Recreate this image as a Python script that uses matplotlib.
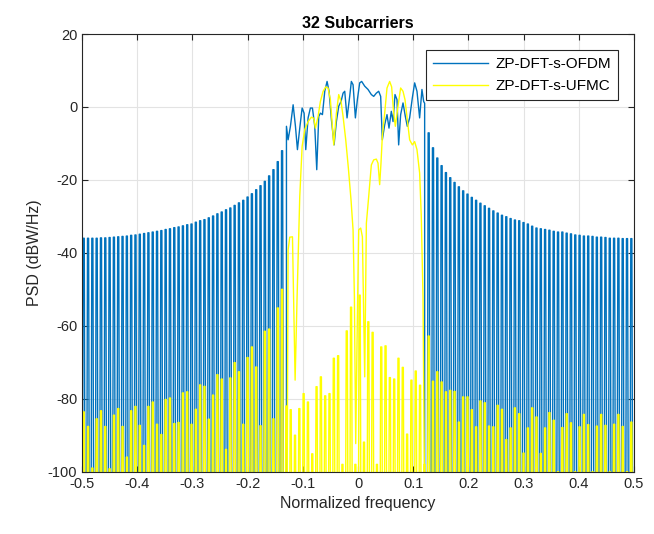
import numpy as np
import matplotlib
matplotlib.use("Agg")
import matplotlib.pyplot as plt

plt.rcParams['font.family'] = ['Liberation Sans', 'DejaVu Sans']
plt.rcParams['axes.unicode_minus'] = False

# sidelobe spikes sit on a 1/128 grid (128 spikes across the band)
bin_freq = -0.497 + np.arange(128) / 128.0

# ZP-DFT-s-OFDM: spike peaks left of the band (bins 0..46), right of it (bins 80..127)
ofdm_left = [-36.0, -36.0, -36.0, -36.0, -35.9, -35.9, -35.8, -35.7, -35.6, -35.5,
             -35.4, -35.2, -35.1, -34.9, -34.7, -34.5, -34.3, -34.1, -33.9, -33.6,
             -33.4, -33.1, -32.9, -32.6, -32.3, -32.1, -31.6, -31.2, -30.9, -30.4,
             -29.9, -29.3, -28.8, -28.2, -27.7, -27.0, -26.3, -25.6, -24.7, -23.8,
             -22.7, -21.6, -20.4, -18.9, -17.2, -15.0, -12.0]
ofdm_right = [-7.1, -11.2, -14.0, -16.1, -18.0, -19.4, -20.7, -21.9, -23.0, -23.9,
              -24.8, -25.6, -26.4, -27.1, -27.8, -28.5, -29.1, -29.7, -30.1, -30.6,
              -31.0, -31.2, -31.7, -32.1, -32.7, -33.2, -33.4, -33.6, -33.8, -34.1,
              -34.3, -34.3, -34.6, -34.8, -35.1, -35.2, -35.4, -35.4, -35.5, -35.7,
              -35.7, -35.8, -36.0, -36.0, -36.0, -36.1, -36.1, -36.1]

# ZP-DFT-s-OFDM in-band curve
ofdm_band_f = [-0.1297, -0.1267, -0.1225, -0.1176, -0.1134, -0.1098, -0.1056, -0.1013,
               -0.0977, -0.0947, -0.0905, -0.0863, -0.0826, -0.0784, -0.0748, -0.0712,
               -0.0682, -0.0645, -0.0603, -0.0561, -0.0525, -0.0482, -0.0434, -0.0392,
               -0.0350, -0.0308, -0.0271, -0.0241, -0.0199, -0.0151, -0.0121, -0.0090,
               -0.0048, -0.0012, 0.0030, 0.0066, 0.0121, 0.0181, 0.0241, 0.0284,
               0.0332, 0.0374, 0.0410, 0.0440, 0.0483, 0.0525, 0.0561, 0.0603,
               0.0634, 0.0670, 0.0706, 0.0736, 0.0772, 0.0815, 0.0857, 0.0893,
               0.0935, 0.0984, 0.1026, 0.1068, 0.1116, 0.1158, 0.1189, 0.1207]
ofdm_band = [-5.3, -9.0, -5.3, 0.6, -5.3, -11.7, -5.8, -0.3,
             -1.7, -11.7, -3.0, -0.3, -0.3, -5.3, -17.2, -2.6,
             -1.7, -2.1, 4.3, 7.0, 4.3, -3.5, -10.4, -4.0,
             0.2, 1.5, 3.8, 4.3, -3.0, 2.9, 7.0, 6.1,
             -3.0, 2.0, 6.6, 7.0, 5.7, 4.8, 3.4, 2.9,
             3.8, 4.3, 2.9, -9.0, -4.9, -2.1, -5.8, -1.2,
             -4.0, 3.4, 2.0, -10.4, -2.1, 1.1, -2.6, -5.3,
             -3.0, 2.5, 6.6, 4.3, -3.0, 4.8, 1.5, 1.0]

# ZP-DFT-s-UFMC: spike peaks on every bin 0..127
ufmc_spikes = [-83.6, -87.6, -99.0, -85.5, -83.3, -87.6, -99.2, -84.5, -82.7, -87.6,
               -96.0, -83.3, -82.1, -87.3, -92.8, -82.1, -80.9, -87.0, -89.8, -80.2,
               -79.8, -86.8, -86.5, -78.4, -78.1, -87.0, -82.9, -76.2, -76.6, -85.6,
               -79.0, -73.4, -74.6, -93.9, -74.3, -70.1, -72.6, -87.0, -68.7, -65.8,
               -71.3, -87.4, -61.5, -60.9, -85.5, -55.1, -50.0,
               -82.0, -83.0, -90.0, -82.7, -78.6, -80.9, -95.1, -76.7, -74.0, -79.2,
               -78.6, -68.9, -68.2, -98.0, -61.4, -54.9, -98.0, -51.6, -91.9, -58.9,
               -61.8, -98.0, -65.8, -65.5, -74.2, -74.6, -68.9, -71.4, -89.7, -74.9,
               -72.4, -76.3, -98.0,
               -62.8, -75.2, -72.6, -75.4, -78.1, -77.7, -78.0, -86.4, -79.5, -79.5,
               -83.0, -87.7, -80.6, -81.1, -87.5, -87.7, -81.8, -82.9, -91.2, -88.0,
               -82.5, -84.1, -94.9, -88.0, -82.5, -85.0, -95.0, -88.0, -83.8, -85.9,
               -100.0, -87.9, -84.1, -86.6, -100.0, -87.7, -84.3, -87.1, -100.0, -87.5,
               -84.3, -87.3, -100.0, -87.0, -84.3, -87.6, -100.0, -86.4]

# ZP-DFT-s-UFMC in-band curve
ufmc_band_f = [-0.1267, -0.1237, -0.1188, -0.1140, -0.1104, -0.1056, -0.1013, -0.0965,
               -0.0905, -0.0845, -0.0802, -0.0772, -0.0724, -0.0682, -0.0633, -0.0585,
               -0.0543, -0.0501, -0.0440, -0.0392, -0.0350, -0.0308, -0.0271, -0.0223,
               -0.0175, -0.0127, -0.0090, -0.0066, -0.0042, -0.0012, 0.0012, 0.0048,
               0.0079, 0.0121, 0.0151, 0.0193, 0.0241, 0.0284, 0.0332, 0.0362,
               0.0392, 0.0416, 0.0440, 0.0483, 0.0525, 0.0573, 0.0609, 0.0646,
               0.0676, 0.0724, 0.0772, 0.0815, 0.0851, 0.0893, 0.0935, 0.0984,
               0.1026, 0.1068, 0.1116, 0.1146, 0.1177, 0.1207]
ufmc_band = [-39.2, -35.7, -35.6, -74.9, -52.0, -24.6, -10.8, -6.2,
             -4.0, -2.8, -3.1, -5.8, -2.6, 1.5, 4.3, 5.5,
             5.2, 2.0, -10.4, -1.7, 3.4, 1.5, -2.6, -9.0,
             -16.8, -25.5, -33.7, -52.0, -92.3, -57.5, -33.7, -33.2,
             -35.6, -74.0, -31.9, -24.6, -15.9, -14.5, -14.3, -15.4,
             -21.3, -15.4, -8.1, -1.7, 5.2, 7.0, 5.5, -1.7,
             -5.3, 0.2, 5.2, 4.3, 2.0, -3.5, -9.0, -10.4,
             -9.5, -11.7, -18.1, -30.0, -52.0, -110.0]

floor_db = -150.0      # spectral nulls, far below the axis
step = 1.0 / 512       # underlying PSD sample spacing


def spikes(freqs, peaks):
    xs, ys = [], []
    for f, p in zip(freqs, peaks):
        xs += [f - 1.5 * step, f - 0.5 * step, f + 0.5 * step, f + 1.5 * step]
        ys += [floor_db, p, p, floor_db]
    return xs, ys


lx, ly = spikes(bin_freq[:47], ofdm_left)
rx, ry = spikes(bin_freq[80:], ofdm_right)
ofdm_x = lx + [ofdm_band_f[0]] + ofdm_band_f + [ofdm_band_f[-1]] + rx
ofdm_y = ly + [floor_db] + ofdm_band + [floor_db] + ry

ux, uy = spikes(bin_freq, ufmc_spikes)

fig = plt.figure(figsize=(6.54, 5.34), dpi=100)
ax = fig.add_axes([0.1255, 0.1167, 0.8439, 0.8196])

blue = '#0072BD'
yellow = '#FFFF00'
h1, = ax.plot(ofdm_x, ofdm_y, color=blue, lw=1.0, label='ZP-DFT-s-OFDM')
ax.plot(ux, uy, color=yellow, lw=1.0)
h2, = ax.plot([ufmc_band_f[0] - 0.003] + ufmc_band_f, [floor_db] + ufmc_band,
              color=yellow, lw=1.0, label='ZP-DFT-s-UFMC')

ax.set_xlim(-0.5, 0.5)
ax.set_ylim(-100, 20)
ax.set_xticks(np.arange(-0.5, 0.51, 0.1))
ax.set_xticklabels(['-0.5', '-0.4', '-0.3', '-0.2', '-0.1', '0', '0.1', '0.2', '0.3', '0.4', '0.5'])
ax.set_yticks(np.arange(-100, 21, 20))
ax.grid(True, color='#e3e3e3', lw=0.8)
ax.set_axisbelow(True)
ax.tick_params(direction='in', top=True, right=True, labelsize=10.5, colors='#262626', length=4)
for sp in ax.spines.values():
    sp.set_color('#262626')
    sp.set_linewidth(0.8)

ax.set_title('32 Subcarriers', fontsize=11.5, fontweight='bold', pad=4)
ax.set_xlabel('Normalized frequency', fontsize=11.5, color='#262626')
ax.set_ylabel('PSD (dBW/Hz)', fontsize=11.5, color='#262626')

leg = ax.legend(handles=[h1, h2], loc='upper right', fontsize=11, fancybox=False,
                edgecolor='#262626', framealpha=1, borderaxespad=1.05, handlelength=3.6,
                handletextpad=0.5, borderpad=0.45, labelspacing=0.55)
leg.get_frame().set_linewidth(0.8)

fig.savefig('out.png', dpi=100)
